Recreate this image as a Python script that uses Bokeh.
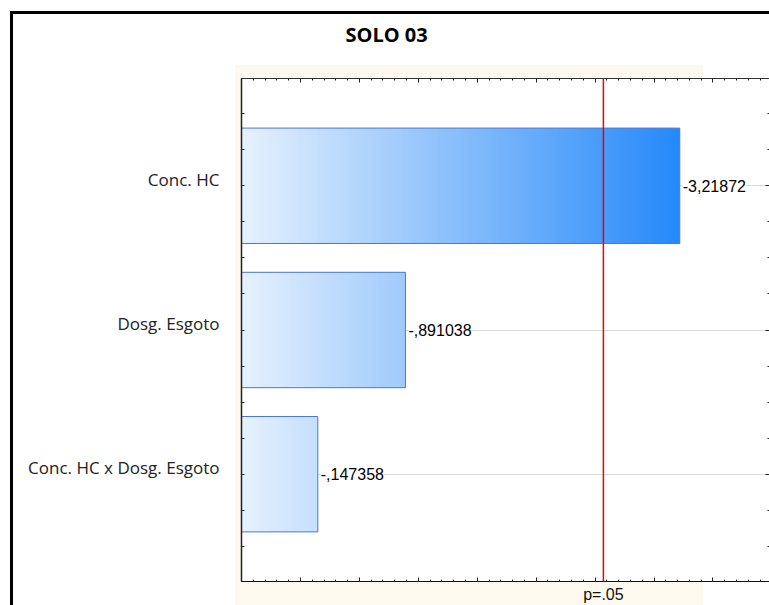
import numpy as np
from bokeh.plotting import figure
from bokeh.models import (FixedTicker, LinearAxis, Range1d, Span, LabelSet,
                          ColumnDataSource)
from bokeh.core.properties import value
from bokeh.embed import file_html
from bokeh.resources import INLINE

# Standardized effect estimates (t-values) of the factorial model, soil 03
title_text = "SOLO 03"
factors = ["Conc. HC", "Dosg. Esgoto", "Conc. HC x Dosg. Esgoto"]
effects = [-3.21872, -0.891038, -0.147358]
p_crit = 2.5706          # critical t for p = .05
p_label = "p=.05"

# axis extents
x_start, x_end = -0.5, 3.98
y_start, y_end = 0.256, 3.744

ypos = list(range(len(factors), 0, -1))      # first factor drawn on top
mag = [abs(v) for v in effects]


def fmt(v):
    s = f"{v:.6g}".replace(".", ",")
    return s.replace("-0,", "-,") if abs(v) < 1 else s


labels = [fmt(v) for v in effects]

# page backdrop: outer black frame (left/top edges) and the cream graph area
backdrop = ("linear-gradient(#000,#000) 10px 11px / 3px 100% no-repeat, "
            "linear-gradient(#000,#000) 10px 11px / 100% 3px no-repeat, "
            "linear-gradient(#fdf9ee,#fdf9ee) 235px 65px / 468px 540px no-repeat, "
            "#ffffff")

# the trailing blank line leaves a gap between the title and the plot frame
p = figure(width=769, height=605, output_backend="svg", toolbar_location=None,
           x_range=Range1d(x_start, x_end), y_range=Range1d(y_start, y_end),
           min_border_left=241, min_border_right=0, min_border_top=78,
           min_border_bottom=23, outline_line_color=None,
           background_fill_color="white", border_fill_color=None,
           title=title_text + "\n", styles={"background": backdrop})

p.title.text_font = "Open Sans"
p.title.text_font_style = "bold"
p.title.text_font_size = "20px"
p.title.text_color = "black"
p.title.align = "left"
p.title.offset = 104
p.title.standoff = 7


def style_axis(ax, line_color):
    ax.major_tick_in = 4
    ax.major_tick_out = 0
    ax.minor_tick_in = 2
    ax.minor_tick_out = 0
    ax.major_tick_line_color = "#222222"
    ax.minor_tick_line_color = "#222222"
    ax.axis_line_color = line_color


def hide_labels(ax):
    ax.major_label_text_color = None
    ax.major_label_text_font_size = "1px"
    ax.major_label_standoff = 0


# x ticks: half-unit majors, tenth minors; the threshold carries the p label
x_major = [x_start + 0.5 * k for k in range(10)]
x_minor = [round(x_start + 0.1 * k, 2) for k in range(46)]

xb = p.xaxis[0]
xb.ticker = FixedTicker(ticks=x_major + [p_crit], minor_ticks=x_minor)
style_axis(xb, "#111111")
xb.major_label_overrides = {**{t: "" for t in x_major}, p_crit: p_label}
xb.major_label_text_font = "Liberation Sans"
xb.major_label_text_font_size = "16px"
xb.major_label_text_color = "#111111"
xb.major_label_standoff = 4

xt = LinearAxis(ticker=FixedTicker(ticks=x_major, minor_ticks=x_minor))
style_axis(xt, "#333333")
hide_labels(xt)
p.add_layout(xt, "above")

# y ticks: quarter-unit marks; factor names sit slightly above their bar centre
y_quarters = [0.25 * k for k in range(1, 16)]
name_lift = 0.045
yl = p.yaxis[0]
yl.ticker = FixedTicker(ticks=[y + name_lift for y in ypos], minor_ticks=y_quarters)
style_axis(yl, "#222222")
yl.axis_line_width = 1.5
yl.major_tick_in = 0
yl.minor_tick_in = 3
yl.major_label_overrides = {y + name_lift: f for y, f in zip(ypos, factors)}
yl.major_label_text_font = "Open Sans"
yl.major_label_text_font_size = "17px"
yl.major_label_text_color = "#222222"
yl.major_label_standoff = 22

yr = LinearAxis(ticker=FixedTicker(ticks=ypos, minor_ticks=y_quarters))
style_axis(yr, None)
hide_labels(yr)
p.add_layout(yr, "right")

p.xgrid.visible = False
p.ygrid.ticker = FixedTicker(ticks=ypos)
p.ygrid.grid_line_color = "#d9d9d9"

# gradient-filled bars (one light-to-blue ramp shared along x)
c0 = np.array([231, 242, 254], dtype=float)
c1 = np.array([38, 137, 250], dtype=float)
bar_h = 0.8
ramp_end = max(mag)
for yc, m in zip(ypos, mag):
    ncol = 300
    xs = np.linspace(x_start, m, ncol)
    t = ((xs - x_start) / (ramp_end - x_start))[:, None]
    rgb = (c0 + (c1 - c0) * t).astype(np.uint8)
    img = np.empty((1, ncol), dtype=np.uint32)
    px = img.view(dtype=np.uint8).reshape((1, ncol, 4))
    px[0, :, 0] = rgb[:, 0]
    px[0, :, 1] = rgb[:, 1]
    px[0, :, 2] = rgb[:, 2]
    px[0, :, 3] = 255
    p.image_rgba(image=[img], x=x_start, y=yc - bar_h / 2, dw=m - x_start, dh=bar_h)

src = ColumnDataSource(dict(y=ypos, mag=mag, lab=labels))
p.hbar(y="y", left=x_start, right="mag", height=bar_h, source=src,
       fill_color=None, line_color="#4a78cc", line_width=1)

# effect values at the bar ends
p.add_layout(LabelSet(x="mag", y="y", text="lab", source=src, x_offset=3,
                      text_baseline="middle", text_font=value("Liberation Sans"),
                      text_font_size="16px", text_color="#000000",
                      background_fill_color="white"))

# significance threshold
p.add_layout(Span(location=p_crit, dimension="height", line_color="#f00000",
                  line_width=1.5))

open("out.html", "w").write(file_html(p, INLINE))
